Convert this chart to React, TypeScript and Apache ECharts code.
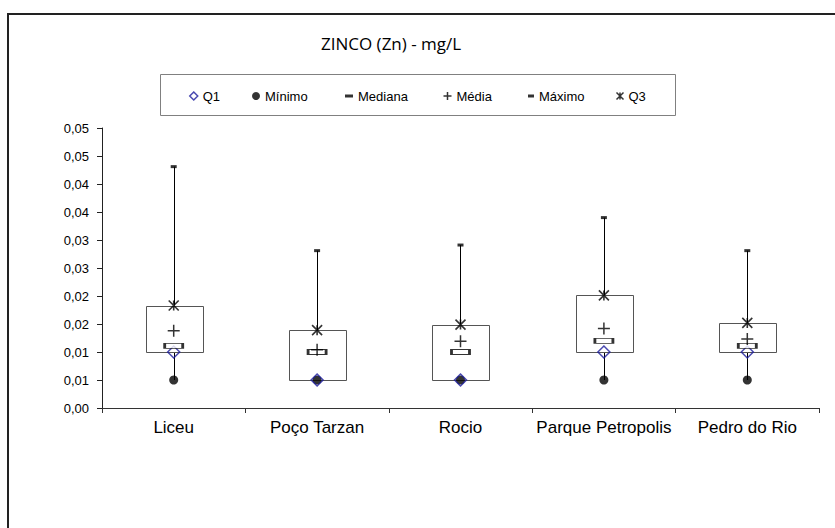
import React, { useEffect, useRef } from "react";
import * as echarts from "echarts";

const categories = ["Liceu", "Poço Tarzan", "Rocio", "Parque Petropolis", "Pedro do Rio"];
const minimo = [0.005, 0.005, 0.005, 0.005, 0.005];
const q1 = [0.01, 0.005, 0.005, 0.01, 0.01];
const mediana = [0.0111, 0.01, 0.01, 0.012, 0.0111];
const media = [0.0138, 0.0104, 0.0119, 0.0142, 0.0123];
const q3 = [0.0183, 0.0139, 0.0149, 0.0201, 0.0152];
const maximo = [0.0431, 0.0281, 0.0291, 0.034, 0.0281];

const PLUS = "path://M6,0V12M0,6H12";
const STAR = "path://M0,0L10,10M10,0L0,10M5,0V10";
const FONT = "Liberation Sans, Arial, sans-serif";

export default function App() {
  const ref = useRef<HTMLDivElement>(null);
  useEffect(() => {
    if (!ref.current) return;
    const chart = echarts.init(ref.current, undefined, { renderer: "svg" });
    const boxData = categories.map((_, i) => [i, minimo[i], q1[i], q3[i], maximo[i]]);
    const legendCfg = (name: string, left: number, w: number, h: number, icon: string, itemStyle: any) => ({
      show: true,
      left,
      top: 88.5,
      padding: 0,
      itemWidth: w,
      itemHeight: h,
      selectedMode: false,
      textStyle: { fontFamily: FONT, fontSize: 13, color: "#000", lineHeight: 15 },
      data: [{ name, icon, itemStyle }],
    });
    const option: any = {
      animation: false,
      backgroundColor: "#fff",
      title: {
        text: "ZINCO (Zn) - mg/L",
        left: 321,
        top: 35,
        padding: 0,
        textStyle: { fontFamily: "Open Sans", fontSize: 17, fontWeight: "normal", color: "#000" },
      },
      legend: [
        legendCfg("Q1", 189, 8, 8, "diamond", { color: "#fff", borderColor: "#1c1c9c", borderWidth: 1.5 }),
        legendCfg("Mínimo", 252, 8, 8, "circle", { color: "#000", borderWidth: 0 }),
        legendCfg("Mediana", 345, 8, 3, "rect", { color: "#000", borderWidth: 0 }),
        legendCfg("Média", 441, 8, 8, PLUS, { color: "none", borderColor: "#000", borderWidth: 1.5 }),
        legendCfg("Máximo", 528, 6, 3, "rect", { color: "#000", borderWidth: 0 }),
        legendCfg("Q3", 614, 7, 7, STAR, { color: "none", borderColor: "#000", borderWidth: 1.5 }),
      ],
      graphic: [
        { type: "line", shape: { x1: 8, y1: 14, x2: 835, y2: 14 }, style: { stroke: "#222", lineWidth: 2 } },
        { type: "line", shape: { x1: 8, y1: 13, x2: 8, y2: 528 }, style: { stroke: "#222", lineWidth: 2 } },
        {
          type: "rect",
          shape: { x: 160.5, y: 74.5, width: 515, height: 41 },
          style: { fill: "none", stroke: "#808080", lineWidth: 1 },
          z: -1,
        },
      ],
      grid: { left: 102, right: 16, top: 128, bottom: 120 },
      xAxis: {
        type: "category",
        data: categories,
        axisLine: { lineStyle: { color: "#333", width: 1 } },
        axisTick: { show: true, length: 5, lineStyle: { color: "#333" } },
        axisLabel: { fontFamily: FONT, fontSize: 17, color: "#000", margin: 11, interval: 0 },
        splitLine: { show: false },
      },
      yAxis: {
        type: "value",
        min: 0,
        max: 0.05,
        interval: 0.005,
        axisLine: { show: true, lineStyle: { color: "#222", width: 1 } },
        axisTick: { show: true, length: 5, lineStyle: { color: "#222" } },
        splitLine: { show: false },
        axisLabel: {
          fontFamily: FONT,
          fontSize: 13,
          color: "#000",
          margin: 13,
          formatter: (v: number) => {
            const n = Math.round(v / 0.005);
            return (Math.ceil(n / 2) / 100).toFixed(2).replace(".", ",");
          },
        },
      },
      series: [
        {
          type: "custom",
          name: "box",
          data: boxData,
          encode: { x: 0, y: [1, 2, 3, 4] },
          z: 1,
          renderItem: (params: any, api: any) => {
            const x = api.value(0);
            const pMin = api.coord([x, api.value(1)]);
            const pQ1 = api.coord([x, api.value(2)]);
            const pQ3 = api.coord([x, api.value(3)]);
            const pMax = api.coord([x, api.value(4)]);
            const w = api.size([1, 0])[0] * 0.4;
            const cx = Math.round(pQ1[0]) + 0.5;
            return {
              type: "group",
              children: [
                {
                  type: "line",
                  shape: { x1: cx, y1: pMax[1], x2: cx, y2: pQ3[1] },
                  style: { stroke: "#000", lineWidth: 1 },
                },
                {
                  type: "line",
                  shape: { x1: cx, y1: pMin[1], x2: cx, y2: pQ1[1] },
                  style: { stroke: "#000", lineWidth: 1 },
                },
                {
                  type: "rect",
                  shape: {
                    x: Math.round(cx - w / 2) + 0.5,
                    y: Math.round(pQ3[1]) + 0.5,
                    width: Math.round(w),
                    height: Math.round(pQ1[1] - pQ3[1]),
                  },
                  style: { fill: "none", stroke: "#555", lineWidth: 1 },
                },
              ],
            };
          },
        },
        {
          type: "scatter",
          name: "Mínimo",
          data: minimo,
          symbol: "circle",
          symbolSize: 9,
          itemStyle: { color: "#000" },
          z: 2,
        },
        {
          type: "scatter",
          name: "Q1",
          data: q1,
          symbol: "diamond",
          symbolSize: [12, 12],
          itemStyle: { color: "rgba(0,0,0,0)", borderColor: "#1c1c9c", borderWidth: 1.5 },
          z: 3,
        },
        {
          type: "scatter",
          name: "Mediana",
          data: mediana,
          symbol: "rect",
          symbolSize: [18, 5],
          itemStyle: { color: "#fff", borderColor: "#000", borderWidth: 1.5 },
          z: 3,
        },
        {
          type: "scatter",
          name: "Média",
          data: media,
          symbol: PLUS,
          symbolSize: [12, 12],
          itemStyle: { color: "none", borderColor: "#000", borderWidth: 1.5 },
          z: 4,
        },
        {
          type: "scatter",
          name: "Máximo",
          data: maximo,
          symbol: "rect",
          symbolSize: [6, 3],
          itemStyle: { color: "#000" },
          z: 3,
        },
        {
          type: "scatter",
          name: "Q3",
          data: q3,
          symbol: STAR,
          symbolSize: [10, 10],
          itemStyle: { color: "none", borderColor: "#000", borderWidth: 1.6 },
          z: 4,
        },
      ],
    };
    chart.setOption(option);
    return () => chart.dispose();
  }, []);
  return (
    <div
      ref={ref}
      style={{ position: "fixed", left: 0, top: 0, width: 835, height: 528, background: "#fff" }}
    />
  );
}
